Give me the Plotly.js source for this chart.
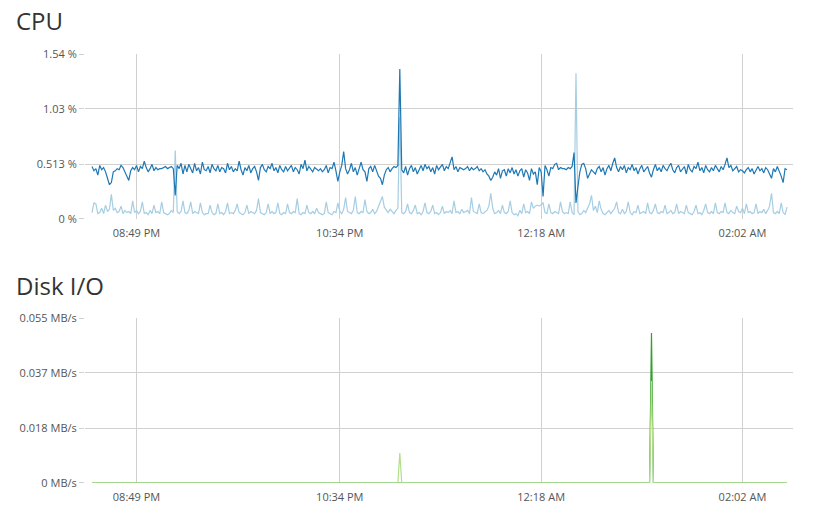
<!DOCTYPE html>
<html>
<head>
<meta charset="utf-8">
<script src="https://cdn.plot.ly/plotly-3.0.1.min.js"></script>
<style>
  html, body { margin: 0; padding: 0; background: #ffffff; }
  #chart { width: 818px; height: 519px; }
</style>
</head>
<body>
<div id="chart"></div>
<script>
// ---- Data (one reading per minute) ----
const startTime = '2023-05-10 20:26';
const stepMinutes = 1;

const cpuDark = [
  0.49,0.45,0.47,0.41,0.50,0.46,0.48,0.44,0.38,0.32,0.34,0.44,0.45,0.47,0.46,0.50,0.48,0.44,0.41,0.36,
  0.45,0.48,0.46,0.50,0.44,0.49,0.47,0.54,0.48,0.44,0.47,0.51,0.45,0.48,0.46,0.47,0.47,0.48,0.49,0.47,
  0.48,0.49,0.47,0.22,0.50,0.47,0.52,0.42,0.50,0.44,0.51,0.46,0.43,0.52,0.45,0.48,0.42,0.53,0.46,0.45,
  0.49,0.43,0.51,0.47,0.45,0.50,0.44,0.48,0.47,0.43,0.52,0.46,0.49,0.44,0.47,0.45,0.54,0.46,0.41,0.48,
  0.45,0.50,0.43,0.47,0.49,0.44,0.36,0.48,0.51,0.46,0.44,0.49,0.47,0.52,0.45,0.48,0.43,0.50,0.46,0.44,
  0.49,0.45,0.47,0.50,0.44,0.48,0.46,0.42,0.51,0.47,0.55,0.45,0.49,0.46,0.44,0.48,0.46,0.45,0.47,0.44,
  0.46,0.50,0.43,0.48,0.47,0.53,0.45,0.35,0.44,0.50,0.63,0.47,0.42,0.46,0.52,0.44,0.48,0.41,0.47,0.53,
  0.46,0.44,0.35,0.47,0.49,0.44,0.50,0.45,0.40,0.38,0.32,0.41,0.46,0.48,0.44,0.47,0.49,0.48,0.50,1.40,
  0.46,0.43,0.49,0.41,0.47,0.50,0.44,0.48,0.42,0.46,0.50,0.45,0.51,0.47,0.49,0.44,0.48,0.42,0.50,0.46,
  0.48,0.51,0.45,0.49,0.47,0.52,0.58,0.46,0.49,0.44,0.48,0.47,0.46,0.47,0.49,0.45,0.48,0.46,0.47,0.49,
  0.45,0.47,0.44,0.46,0.42,0.40,0.36,0.39,0.44,0.41,0.47,0.38,0.45,0.46,0.40,0.47,0.43,0.48,0.42,0.46,
  0.40,0.45,0.47,0.39,0.46,0.43,0.36,0.47,0.42,0.44,0.32,0.48,0.44,0.21,0.50,0.46,0.40,0.48,0.47,0.51,
  0.52,0.46,0.48,0.47,0.47,0.46,0.48,0.47,0.49,0.62,0.15,0.30,0.44,0.51,0.52,0.47,0.38,0.42,0.46,0.44,
  0.42,0.47,0.49,0.44,0.48,0.41,0.47,0.50,0.45,0.52,0.57,0.48,0.44,0.49,0.46,0.50,0.43,0.48,0.46,0.51,
  0.45,0.48,0.42,0.47,0.50,0.44,0.46,0.49,0.43,0.39,0.46,0.51,0.45,0.48,0.44,0.50,0.47,0.45,0.49,0.52,
  0.46,0.43,0.48,0.50,0.44,0.47,0.49,0.42,0.51,0.46,0.44,0.49,0.47,0.53,0.45,0.48,0.43,0.50,0.46,0.44,
  0.48,0.45,0.50,0.47,0.44,0.49,0.46,0.51,0.57,0.48,0.50,0.45,0.47,0.49,0.44,0.46,0.45,0.43,0.46,0.48,
  0.44,0.47,0.42,0.46,0.49,0.45,0.47,0.43,0.48,0.46,0.41,0.38,0.47,0.44,0.49,0.45,0.40,0.34,0.47,0.46
];

const cpuLight = [
  0.06,0.15,0.14,0.05,0.06,0.10,0.05,0.13,0.07,0.09,0.23,0.08,0.10,0.06,0.07,0.12,0.05,0.08,0.06,0.07,
  0.05,0.17,0.06,0.08,0.05,0.07,0.16,0.05,0.06,0.04,0.08,0.05,0.13,0.06,0.07,0.05,0.16,0.06,0.05,0.04,
  0.05,0.08,0.06,0.64,0.07,0.05,0.07,0.17,0.06,0.05,0.08,0.16,0.05,0.07,0.06,0.05,0.15,0.06,0.04,0.05,
  0.05,0.13,0.06,0.04,0.05,0.14,0.05,0.06,0.04,0.07,0.15,0.05,0.06,0.05,0.08,0.14,0.06,0.05,0.04,0.06,
  0.13,0.05,0.07,0.06,0.05,0.08,0.19,0.06,0.05,0.04,0.06,0.14,0.05,0.07,0.05,0.06,0.15,0.05,0.04,0.06,
  0.05,0.14,0.06,0.05,0.07,0.06,0.19,0.05,0.04,0.06,0.05,0.13,0.06,0.05,0.07,0.05,0.10,0.06,0.05,0.04,
  0.05,0.16,0.06,0.05,0.04,0.07,0.06,0.15,0.07,0.05,0.09,0.20,0.07,0.06,0.05,0.08,0.21,0.06,0.05,0.07,
  0.06,0.18,0.07,0.05,0.06,0.09,0.05,0.07,0.12,0.15,0.21,0.11,0.08,0.06,0.09,0.07,0.05,0.08,0.10,0.95,
  0.06,0.05,0.07,0.14,0.06,0.05,0.08,0.13,0.05,0.06,0.04,0.07,0.15,0.06,0.05,0.07,0.13,0.05,0.06,0.04,
  0.06,0.12,0.05,0.07,0.06,0.08,0.05,0.17,0.06,0.07,0.05,0.09,0.06,0.07,0.08,0.05,0.20,0.07,0.06,0.05,
  0.14,0.06,0.05,0.07,0.08,0.12,0.24,0.10,0.05,0.06,0.08,0.05,0.13,0.06,0.05,0.07,0.17,0.06,0.04,0.05,
  0.03,0.08,0.05,0.14,0.06,0.07,0.05,0.16,0.10,0.12,0.13,0.12,0.14,0.15,0.06,0.05,0.14,0.06,0.05,0.07,
  0.06,0.05,0.16,0.07,0.05,0.06,0.05,0.16,0.06,0.04,1.36,0.07,0.04,0.05,0.08,0.06,0.10,0.14,0.22,0.08,
  0.12,0.06,0.17,0.09,0.05,0.04,0.06,0.08,0.05,0.07,0.10,0.16,0.06,0.05,0.09,0.05,0.07,0.16,0.06,0.04,
  0.07,0.06,0.13,0.05,0.06,0.07,0.05,0.15,0.06,0.05,0.08,0.14,0.06,0.05,0.07,0.06,0.13,0.05,0.06,0.08,
  0.05,0.06,0.14,0.05,0.07,0.06,0.05,0.13,0.06,0.05,0.04,0.07,0.13,0.05,0.06,0.04,0.08,0.14,0.06,0.05,
  0.07,0.05,0.15,0.06,0.05,0.07,0.06,0.15,0.06,0.05,0.08,0.06,0.05,0.12,0.07,0.06,0.10,0.05,0.14,0.06,
  0.07,0.05,0.06,0.14,0.05,0.07,0.06,0.09,0.05,0.08,0.12,0.24,0.06,0.05,0.07,0.05,0.15,0.06,0.04,0.11
];

// Disk I/O readings (MB/s): only the changes are listed, zero elsewhere
const diskDarkTimes  = ['2023-05-10 20:26','2023-05-11 01:14','2023-05-11 01:15','2023-05-11 01:16','2023-05-11 02:25'];
const diskDarkValues = [0, 0, 0.050, 0, 0];
const diskLightTimes  = ['2023-05-10 20:26','2023-05-10 23:04','2023-05-10 23:05','2023-05-10 23:06','2023-05-11 01:14','2023-05-11 01:15','2023-05-11 01:16','2023-05-11 02:25'];
const diskLightValues = [0, 0, 0.010, 0, 0, 0.034, 0, 0];

// Axis ticks
const xTickVals = ['2023-05-10 20:49','2023-05-10 22:34','2023-05-11 00:18','2023-05-11 02:02'];
const xTickText = ['08:49 PM','10:34 PM','12:18 AM','02:02 AM'];
const xRange = ['2023-05-10 20:22:23','2023-05-11 02:28:06'];
const cpuTickVals = [0, 0.5133, 1.0267, 1.54];
const cpuTickText = ['0 %','0.513 %','1.03 %','1.54 %'];
const diskTickVals = [0, 0.01833, 0.03667, 0.055];
const diskTickText = ['0 MB/s','0.018 MB/s','0.037 MB/s','0.055 MB/s'];

// ---- Build time stamps ----
function pad(n){ return (n < 10 ? '0' : '') + n; }
function timeAt(i){
  const d = new Date(startTime.replace(' ', 'T') + ':00');
  d.setMinutes(d.getMinutes() + i * stepMinutes);
  return d.getFullYear() + '-' + pad(d.getMonth()+1) + '-' + pad(d.getDate()) + ' ' + pad(d.getHours()) + ':' + pad(d.getMinutes());
}
const cpuTimes = cpuDark.map((_, i) => timeAt(i));

const gridColor = '#d0d0d0';
const tickFont = { family: 'Open Sans, sans-serif', size: 11, color: '#555555' };

const traces = [
  { x: cpuTimes, y: cpuLight, type: 'scatter', mode: 'lines', line: { color: '#a6cee3', width: 1.2 }, xaxis: 'x', yaxis: 'y', hoverinfo: 'skip' },
  { x: cpuTimes, y: cpuDark, type: 'scatter', mode: 'lines', line: { color: '#1f78b4', width: 1.2 }, xaxis: 'x', yaxis: 'y', hoverinfo: 'skip' },
  { x: diskDarkTimes, y: diskDarkValues, type: 'scatter', mode: 'lines', line: { color: '#33a02c', width: 1.2 }, xaxis: 'x2', yaxis: 'y2', hoverinfo: 'skip' },
  { x: diskLightTimes, y: diskLightValues, type: 'scatter', mode: 'lines', line: { color: '#b2df8a', width: 1.2 }, xaxis: 'x2', yaxis: 'y2', hoverinfo: 'skip' }
];

const xCommon = {
  type: 'date', range: xRange, tickmode: 'array', tickvals: xTickVals, ticktext: xTickText,
  showgrid: true, gridcolor: gridColor, gridwidth: 1, zeroline: false, showline: false,
  ticks: 'outside', ticklen: 4, tickcolor: 'rgba(0,0,0,0)', tickfont: tickFont, fixedrange: true
};
const yCommon = {
  tickmode: 'array', showgrid: true, gridcolor: gridColor, gridwidth: 1, zeroline: false, showline: false,
  ticks: 'outside', ticklen: 5, tickcolor: gridColor, tickfont: tickFont, fixedrange: true
};

const layout = {
  width: 818, height: 519,
  margin: { l: 85, r: 25, t: 54, b: 36 },
  paper_bgcolor: '#ffffff', plot_bgcolor: '#ffffff',
  showlegend: false,
  xaxis: Object.assign({}, xCommon, { anchor: 'y' }),
  xaxis2: Object.assign({}, xCommon, { anchor: 'y2' }),
  yaxis: Object.assign({}, yCommon, { domain: [0.6154, 1], range: [0, 1.54], tickvals: cpuTickVals, ticktext: cpuTickText, anchor: 'x' }),
  yaxis2: Object.assign({}, yCommon, { domain: [0, 0.3846], range: [0, 0.055], tickvals: diskTickVals, ticktext: diskTickText, anchor: 'x2' }),
  annotations: [
    { text: 'CPU', xref: 'paper', yref: 'paper', x: -0.1003, y: 1.0770, xanchor: 'left', yanchor: 'middle', showarrow: false,
      font: { family: 'Open Sans, sans-serif', size: 24, color: '#333333' } },
    { text: 'Disk I/O', xref: 'paper', yref: 'paper', x: -0.1003, y: 0.4604, xanchor: 'left', yanchor: 'middle', showarrow: false,
      font: { family: 'Open Sans, sans-serif', size: 24, color: '#333333' } }
  ]
};

Plotly.newPlot('chart', traces, layout, { displayModeBar: false, staticPlot: true });
</script>
</body>
</html>
